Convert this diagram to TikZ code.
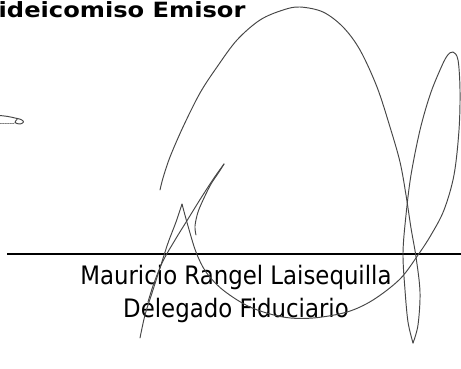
\documentclass[tikz,border=0pt]{standalone}
\usepackage{fontspec}
\setmainfont{DejaVu Sans}
\newfontfamily\condfont{DejaVu Sans Condensed}
\definecolor{sigcol}{RGB}{70,70,70}
\tikzset{
  sig/.style={draw=sigcol, line width=0.95pt, line cap=round, line join=round},
  sigfaint/.style={draw=sigcol!70, line width=0.7pt, line cap=round},
  label/.style={anchor=base, inner sep=0pt, font=\condfont\fontsize{25.4}{30}\selectfont},
  titletext/.style={anchor=base west, inner sep=0pt, font=\fontsize{21}{25}\bfseries\selectfont}
}
\begin{document}
\begin{tikzpicture}[x=1pt,y=-1pt]
\useasboundingbox[fill=white] (0,0) rectangle (461,368);
% title (cut at the left edge)
\node[titletext] (title) at (-1.5,17) {\scalebox{1.15}[1]{ideicomiso Emisor}};
% signature line
\coordinate (linel) at (7,254);
\coordinate (liner) at (461,254);
\draw[line width=1.3pt] (linel) -- (liner);
% names
\node[label] (name) at (236,284) {Mauricio Rangel Laisequilla};
\node[label] (role) at (236,317) {Delegado Fiduciario};
% small scribble at the left
\draw[sig] plot[smooth, tension=0.6] coordinates {(0,115.5) (8,116.5) (15,118) (21,119.5) (23.5,122) (20,124) (15,122.5) (17,119.5)};
\draw[sigfaint, dashed, dash pattern=on 1.5pt off 1pt] (0,123.5) -- (15,123.5);
% big arch down to the narrow lower loop
\draw[sig] plot[smooth, tension=0.55] coordinates {(160,190) (163,178) (170,157) (183,127) (200,93) (217,67) (237,40) (260,20) (283,10) (300,7) (323,12) (343,27) (360,50) (377,87) (390,127) (400,162) (406,195) (411,228) (416,257) (420,292) (418,325) (413,343)};
% up the left side of the lower loop, tall right loop, bottom curve to the peak
\draw[sig] plot[smooth, tension=0.55] coordinates {(413,343) (408,322) (405,290) (403,253) (406,215) (411,175) (420,130) (430,95) (440,70) (447,56) (453,52) (458,60) (460,90) (459,130) (454,175) (444,210) (431,235) (418,255) (400,279) (373,300) (347,312) (313,318) (283,317) (250,307) (223,290) (206,272) (196,252) (188,226) (182,204)};
% from the peak down to the left
\draw[sig] plot[smooth, tension=0.55] coordinates {(182,204) (176,222) (168,243) (160,268) (152,293) (145,315) (140,338)};
% from the upper tip: long stroke down-left
\draw[sig] plot[smooth, tension=0.55] coordinates {(224,164) (214,178) (201,198) (188,219) (175,240) (163,261) (154,283) (148,302)};
% from the upper tip: hook
\draw[sig] plot[smooth, tension=0.55] coordinates {(224,164) (219,172) (211,184) (204,198) (198,212) (195,226) (196,235)};
\end{tikzpicture}
\end{document}
